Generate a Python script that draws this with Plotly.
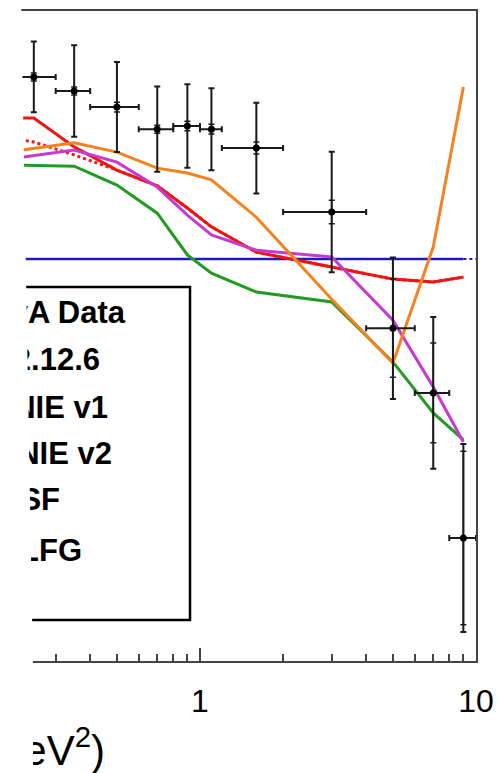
import math
import plotly.graph_objects as go

# ---------------- data ----------------
q2_centers = [0.25, 0.35, 0.5, 0.7, 0.9, 1.1, 1.6, 3.0, 5.0, 7.0, 9.0]
q2_halfwidth = [0.05, 0.05, 0.1, 0.1, 0.1, 0.1, 0.4, 1.0, 1.0, 1.0, 1.0]
data_ratio = [1.453, 1.418, 1.378, 1.323, 1.331, 1.323, 1.276, 1.117, 0.828, 0.667, 0.306]
data_err_total = [0.088, 0.114, 0.112, 0.106, 0.104, 0.102, 0.113, 0.150, 0.176, 0.189, 0.234]
data_err_stat = [0.010, 0.010, 0.012, 0.010, 0.012, 0.012, 0.015, 0.029, 0.122, 0.124, 0.216]

model_q2 = [0.15, 0.25, 0.35, 0.5, 0.7, 0.9, 1.1, 1.6, 3.0, 5.0, 7.0, 9.0]
genie_2126 = [1.0] * 12
mnvgenie_v1 = [1.351, 1.351, 1.279, 1.221, 1.182, 1.127, 1.080, 1.017, 0.980, 0.950, 0.943, 0.955]
mnvgenie_v1_alt = [1.318, 1.291, 1.259, 1.221, 1.182, 1.127, 1.080, 1.017, 0.980, 0.950, 0.943, 0.955]
mnvgenie_v2 = [1.236, 1.257, 1.271, 1.241, 1.179, 1.109, 1.060, 1.022, 1.005, 0.848, 0.682, 0.545]
nuwro_sf = [1.236, 1.234, 1.231, 1.184, 1.114, 1.010, 0.965, 0.918, 0.893, 0.744, 0.617, 0.550]
nuwro_lfg = [1.254, 1.276, 1.289, 1.266, 1.226, 1.214, 1.197, 1.104, 0.900, 0.741, 1.030, 1.428]

tail_q2 = [9.0, 10.0]
tail_ratio = [1.0, 1.0]

legend_labels = ["MINERvA Data", "GENIE 2.12.6", "MnvGENIE v1", "MnvGENIE v2", "NuWro SF", "NuWro LFG"]
x_title = "Q<sup>2</sup> (GeV<sup>2</sup>)"
tick_vals = [1, 10]
tick_text = ["1", "10"]
minor_vals = [0.2, 0.3, 0.4, 0.5, 0.6, 0.7, 0.8, 0.9, 2, 3, 4, 5, 6, 7, 8, 9]

# ---------------- layout geometry (pixels) ----------------
W, H = 497, 773
PL, PR, PT, PB = 0, 476, 11, 661          # plot area edges
X1_PX = 200                                # pixel of Q2 = 1
DEC = PR - X1_PX                           # pixels per decade
Y_TOP = 1.617                              # y range top

def px2x(px):
    return 10 ** ((px - X1_PX) / DEC)

def py2y(py):
    return (PB - py) / (PB - PT) * Y_TOP

def paper_x(px):
    return (px - PL) / (PR - PL)

def paper_y(py):
    return (PB - py) / (PB - PT)

FONT = "Liberation Sans, Arial, Helvetica, sans-serif"

fig = go.Figure()

def curve(y, color, dash="solid", width=3):
    fig.add_trace(go.Scatter(x=model_q2, y=y, mode="lines",
                             line=dict(color=color, width=width, dash=dash),
                             showlegend=False, hoverinfo="skip"))

curve(genie_2126, "#1c1cbf", width=2.5)
fig.add_trace(go.Scatter(x=tail_q2, y=tail_ratio, mode="lines",
                         line=dict(color="#1c1cbf", width=2, dash="dot"),
                         showlegend=False, hoverinfo="skip"))
curve(mnvgenie_v1_alt, "#f01414", dash="dot")
curve(mnvgenie_v1, "#f01414")
curve(nuwro_sf, "#239b23")
curve(mnvgenie_v2, "#c73ad0")
curve(nuwro_lfg, "#f5821f")

# stat error ticks
fig.add_trace(go.Scatter(
    x=q2_centers, y=data_ratio, mode="markers",
    marker=dict(size=2, color="#1a1a1a"),
    error_y=dict(type="data", array=data_err_stat, color="#1a1a1a", thickness=1.5, width=3),
    showlegend=False, hoverinfo="skip"))
# data with total errors
fig.add_trace(go.Scatter(
    x=q2_centers, y=data_ratio, mode="markers",
    marker=dict(size=7, color="black"),
    error_y=dict(type="data", array=data_err_total, color="#1a1a1a", thickness=2, width=3),
    error_x=dict(type="data", array=q2_halfwidth, color="#1a1a1a", thickness=2, width=3),
    showlegend=False, hoverinfo="skip"))

# legend text (right ends visible, left part hidden like the cropped original)
leg_right_px = [125, 100, 108, 112, 60, 82]
leg_center_py = [315, 362, 410, 456, 502, 553]
fig.add_trace(go.Scatter(
    x=[px2x(p) for p in leg_right_px], y=[py2y(p) for p in leg_center_py],
    mode="text", text=legend_labels, textposition="middle left",
    textfont=dict(family=FONT, size=31, color="black", weight="bold"),
    showlegend=False, hoverinfo="skip", cliponaxis=False))

shapes = [
    # legend box
    dict(type="rect", xref="paper", yref="paper",
         x0=paper_x(-10), x1=paper_x(190), y0=paper_y(620), y1=paper_y(287),
         line=dict(color="black", width=2.5), fillcolor="white", layer="below"),
    # faded left strip of the cropped original
    dict(type="path", xref="paper", yref="paper",
         path="M {a},{b} L {c},{b} L {d},{e} L {d},{f} L {a},{f} Z".format(
             a=paper_x(-6), b=paper_y(-6), c=paper_x(21), d=paper_x(33),
             e=paper_y(668), f=paper_y(790)),
         fillcolor="white", line=dict(width=0), layer="above"),
]

annotations = [
    # x-axis title, cropped on the left like the original
    dict(text=x_title, xref="paper", yref="paper",
         x=paper_x(107), y=paper_y(747), xanchor="right", yanchor="middle",
         showarrow=False, font=dict(family=FONT, size=42, color="black")),
    # white mask over the cropped left part of the title
    dict(text=" ", xref="paper", yref="paper",
         x=paper_x(-8), y=paper_y(690), xanchor="left", yanchor="top",
         width=41, height=95, bgcolor="white", borderpad=0, borderwidth=0,
         showarrow=False, font=dict(family=FONT, size=10, color="white")),
]

fig.update_layout(
    width=W, height=H,
    margin=dict(l=PL, r=W - PR, t=PT, b=H - PB),
    paper_bgcolor="white", plot_bgcolor="white",
    showlegend=False,
    shapes=shapes,
    annotations=annotations,
    font=dict(family=FONT, color="black"),
    xaxis=dict(type="log", range=[math.log10(px2x(PL)), 1],
               tickmode="array", tickvals=tick_vals, ticktext=tick_text,
               ticks="inside", ticklen=13, tickwidth=1.5, tickcolor="#444",
               minor=dict(tickmode="array", tickvals=minor_vals, ticks="inside",
                          ticklen=7, tickwidth=1.5, tickcolor="#444", showgrid=False),
               tickfont=dict(family=FONT, size=32, color="black"),
               ticklabelstandoff=11,
               showgrid=False, zeroline=False,
               showline=True, linecolor="#444", linewidth=2, mirror=True),
    yaxis=dict(range=[0, Y_TOP], showticklabels=False, ticks="",
               showgrid=False, zeroline=False,
               showline=True, linecolor="#444", linewidth=2, mirror=True),
)

fig.write_html("out.html", config={"displayModeBar": False},
               post_script="document.body.style.margin='0px';")
